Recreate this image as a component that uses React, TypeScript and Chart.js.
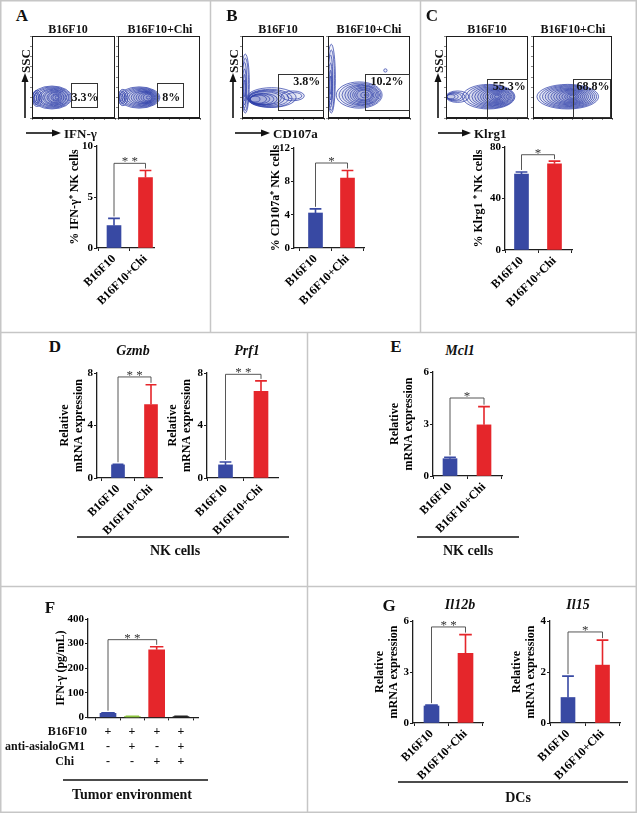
import React, { useEffect, useRef } from "react";
import { Chart, registerables } from "chart.js";

Chart.register(...registerables);

const FONT = '"Liberation Serif", "Times New Roman", serif';
const BLUE = "#3849a3";
const RED = "#e5262b";
const GREEN = "#8dc63f";
const BLACKBAR = "#222222";
const DARK = "#1e1e1e";
const CONTOUR = "rgba(45, 62, 168, 0.9)";

// ---------------- data ----------------
const GROUPS = ["B16F10", "B16F10+Chi"];
const IFNG_PCT = [2.2, 6.9];
const IFNG_PCT_ERR = [0.7, 0.7];
const CD107A_PCT = [4.2, 8.4];
const CD107A_PCT_ERR = [0.5, 0.9];
const KLRG1_PCT = [59, 67];
const KLRG1_PCT_ERR = [1.6, 2.0];
const GZMB_EXPR = [1.0, 5.6];
const GZMB_ERR = [0.05, 1.5];
const PRF1_EXPR = [1.0, 6.6];
const PRF1_ERR = [0.22, 0.8];
const MCL1_EXPR = [1.0, 2.95];
const MCL1_ERR = [0.08, 1.05];
const F_GROUPS = ["1", "2", "3", "4"];
const F_IFNG = [17, 3, 275, 3];
const F_IFNG_ERR = [2, 1, 12, 1];
const F_ROW_LABELS = ["B16F10", "anti-asialoGM1", "Chi"];
const F_B16F10 = ["+", "+", "+", "+"];
const F_ANTI = ["-", "+", "-", "+"];
const F_CHI = ["-", "-", "+", "+"];
const IL12B_EXPR = [1.0, 4.1];
const IL12B_ERR = [0.05, 1.1];
const IL15_EXPR = [1.0, 2.27];
const IL15_ERR = [0.84, 0.98];

// flow cytometry (percent in gate) and contour rings [cx, cy, rx, ry] in 0-100 units
const A_PCT = ["3.3%", "8%"];
const B_PCT = ["3.8%", "10.2%"];
const C_PCT = ["55.3%", "68.8%"];
const A_GATES = [[47, 78, 12, 43], [48, 80, 12, 43]];
const B_GATES = [[44, 99, 9, 54], [45, 99, 9, 54]];
const C_GATES = [[50, 99, 0, 48], [51, 98, 0, 48]];
const A_LEFT_RINGS = [
  [24, 25, 24, 14], [24.5, 25, 22, 13], [25, 25, 20, 12], [26, 25, 18, 11], [26, 25, 16, 10],
  [27, 25, 14, 9], [27, 25, 12, 8], [28, 25, 10, 7], [28, 25, 8, 6], [29, 25, 6, 4.5],
  [29, 25, 4, 3.5], [30, 25, 2, 2], [6, 24, 6, 10], [5, 24, 4.5, 8], [5, 24, 3, 6], [4, 24, 2, 4],
];
const A_RIGHT_RINGS = [
  [26, 25, 25, 13], [27, 25, 23, 12], [28, 25, 21, 11], [29, 25, 19, 10], [30, 25, 17, 9],
  [31, 25, 15, 8], [32, 25, 13, 7.5], [33, 25, 11, 6.5], [34, 25, 9, 6], [35, 25, 7, 5],
  [36, 25, 5, 4], [37, 25, 2.5, 2], [6, 25, 6, 10], [5, 25, 4.5, 8], [5, 25, 3, 6], [4, 25, 2, 4],
];
const B_LEFT_RINGS = [
  [4, 42, 5, 36], [4, 41, 4, 32], [3, 40, 3, 28], [3, 38, 2.4, 22], [3, 37, 1.6, 16], [3, 36, 1, 10],
  [36, 25, 30, 12], [34, 24, 27, 11], [32, 24, 25, 10], [30, 24, 22, 9], [28, 24, 20, 8],
  [26, 23, 17, 7], [24, 23, 15, 6.5], [22, 23, 12, 5.5], [20, 23, 10, 5], [16, 23, 6, 3.5],
  [62, 27, 14, 6], [64, 27, 9, 4],
];
const B_RIGHT_RINGS = [
  [4, 48, 5, 42], [4, 46, 4, 37], [3, 45, 3, 32], [3, 42, 2.4, 25], [3, 40, 1.6, 18], [3, 40, 1, 11],
  [38, 28, 28, 16], [39, 28, 25.5, 14.5], [40, 28, 23, 13], [41, 28, 20.5, 12], [42, 28, 18, 11],
  [42.5, 28, 15.5, 9.5], [43, 28, 13, 8.5], [43.5, 28, 11, 7], [44, 28, 9, 6], [45, 28, 5, 3.5],
  [46, 28, 2, 1.5], [70, 58, 2, 2],
];
const C_LEFT_RINGS = [
  [52, 26, 32, 15], [53.5, 26, 29.5, 14], [55, 26, 27, 13], [56, 26, 24.5, 12], [57, 26, 22, 11],
  [58, 26, 19.5, 10], [59, 26, 17, 9], [59.5, 26, 14.5, 8], [60, 26, 12, 7], [60.5, 26, 9.5, 5.8],
  [61, 26, 7, 4.5], [61.5, 26, 5, 3.2], [62, 26, 3, 2], [14, 26, 14, 7], [12, 26, 11, 5.5],
  [10, 26, 9, 4.5], [8, 26, 7, 3.5], [6, 26, 5, 2.5],
];
const C_RIGHT_RINGS = [
  [44, 26, 39, 15], [44.5, 26, 36, 14], [45, 26, 33, 13], [45.5, 26, 30, 12], [46, 26, 27, 11],
  [46.5, 26, 24, 10], [47, 26, 21, 9], [47.5, 26, 18, 8], [48, 26, 15, 7], [48.5, 26, 12, 5.8],
  [49, 26, 9, 4.5], [49.5, 26, 6.5, 3.2], [50, 26, 4, 2],
];

type BarSpec = {
  labels: string[];
  values: number[];
  errs: number[];
  colors: string[];
  yMax: number;
  yStep: number;
  title: string | string[];
  sig: string;
  sigY: number;
  sigTo: number;
  box: { left: number; right: number; top: number; bottom: number };
  centers: [number, number];
  barW: number;
  titleX: number;
  showX: boolean;
};

const REL = ["Relative", "mRNA expression"];

const BAR_SPECS: BarSpec[] = [
  { labels: GROUPS, values: IFNG_PCT, errs: IFNG_PCT_ERR, colors: [BLUE, RED], yMax: 10, yStep: 5, title: "% IFN-γ⁺ NK cells", sig: "**", sigY: 8.3, sigTo: 1, box: { left: 97, right: 154, top: 146, bottom: 248 }, centers: [114, 145.5], barW: 14, titleX: 75, showX: true },
  { labels: GROUPS, values: CD107A_PCT, errs: CD107A_PCT_ERR, colors: [BLUE, RED], yMax: 12, yStep: 4, title: "% CD107a⁺ NK cells", sig: "*", sigY: 10.2, sigTo: 1, box: { left: 294, right: 364, top: 148, bottom: 248 }, centers: [315.5, 347.5], barW: 14, titleX: 276, showX: true },
  { labels: GROUPS, values: KLRG1_PCT, errs: KLRG1_PCT_ERR, colors: [BLUE, RED], yMax: 80, yStep: 40, title: "% Klrg1 ⁺ NK cells", sig: "*", sigY: 74, sigTo: 1, box: { left: 505, right: 572, top: 147, bottom: 250 }, centers: [521.5, 554.5], barW: 14, titleX: 479, showX: true },
  { labels: GROUPS, values: GZMB_EXPR, errs: GZMB_ERR, colors: [BLUE, RED], yMax: 8, yStep: 4, title: REL, sig: "**", sigY: 7.7, sigTo: 1, box: { left: 97, right: 162, top: 373, bottom: 478 }, centers: [118, 151], barW: 13, titleX: 65, showX: true },
  { labels: GROUPS, values: PRF1_EXPR, errs: PRF1_ERR, colors: [BLUE, RED], yMax: 8, yStep: 4, title: REL, sig: "**", sigY: 7.9, sigTo: 1, box: { left: 207, right: 278, top: 373, bottom: 478 }, centers: [225.5, 261], barW: 14, titleX: 173, showX: true },
  { labels: GROUPS, values: MCL1_EXPR, errs: MCL1_ERR, colors: [BLUE, RED], yMax: 6, yStep: 3, title: REL, sig: "*", sigY: 4.5, sigTo: 1, box: { left: 433, right: 502, top: 372, bottom: 476 }, centers: [450, 484], barW: 14, titleX: 395, showX: true },
  { labels: F_GROUPS, values: F_IFNG, errs: F_IFNG_ERR, colors: [BLUE, GREEN, RED, BLACKBAR], yMax: 400, yStep: 100, title: "IFN-γ (pg/mL)", sig: "**", sigY: 316, sigTo: 2, box: { left: 88, right: 198, top: 619, bottom: 719 }, centers: [108, 181], barW: 16, titleX: 61, showX: false },
  { labels: GROUPS, values: IL12B_EXPR, errs: IL12B_ERR, colors: [BLUE, RED], yMax: 6, yStep: 3, title: REL, sig: "**", sigY: 5.65, sigTo: 1, box: { left: 413, right: 483, top: 621, bottom: 723 }, centers: [431.5, 465.5], barW: 15, titleX: 380, showX: true },
  { labels: GROUPS, values: IL15_EXPR, errs: IL15_ERR, colors: [BLUE, RED], yMax: 4, yStep: 2, title: REL, sig: "*", sigY: 3.57, sigTo: 1, box: { left: 550, right: 620, top: 621, bottom: 723 }, centers: [568, 602.5], barW: 14, titleX: 517, showX: true },
];

type FlowSpec = { box: number[]; rings: number[][]; gate: number[]; pct: string; at: number[] };
const FLOW_SPECS: FlowSpec[] = [
  { box: [32, 36, 115, 118], rings: A_LEFT_RINGS, gate: A_GATES[0], pct: A_PCT[0], at: [64, 24] },
  { box: [118, 36, 200, 118], rings: A_RIGHT_RINGS, gate: A_GATES[1], pct: A_PCT[1], at: [65, 24] },
  { box: [242, 36, 324, 118], rings: B_LEFT_RINGS, gate: B_GATES[0], pct: B_PCT[0], at: [79, 44] },
  { box: [328, 36, 410, 118], rings: B_RIGHT_RINGS, gate: B_GATES[1], pct: B_PCT[1], at: [72, 44] },
  { box: [446, 36, 528, 118], rings: C_LEFT_RINGS, gate: C_GATES[0], pct: C_PCT[0], at: [77, 38] },
  { box: [533, 36, 612, 118], rings: C_RIGHT_RINGS, gate: C_GATES[1], pct: C_PCT[1], at: [76, 38] },
];

const TITLE_SIZE = 12;
const TITLE_LH = 1.15;

function BarChart({ spec }: { spec: BarSpec }) {
  const ref = useRef<HTMLCanvasElement | null>(null);
  const YW = 72, PT = 14, PR = 14;
  const XH = spec.showX ? 76 : 6;
  const { left, right, top, bottom } = spec.box;
  const cw = YW + (right - left) + PR;
  const ch = PT + (bottom - top) + XH;
  useEffect(() => {
    if (!ref.current) return;
    const n = spec.values.length;
    const c1 = spec.centers[0], cN = spec.centers[1];
    const u = (cN - c1) / (n - 1);
    const xMin = 1 - (c1 - left) / u;
    const xMax = n + (right - cN) / u;
    const titlePad = spec.titleX - (left - YW) - (TITLE_SIZE * TITLE_LH) / 2;
    const yTickFont = { family: FONT, size: 11, weight: "bold" as const };
    const xTickFont = { family: FONT, size: 12, weight: "bold" as const };
    const overlay = {
      id: "overlay",
      afterDatasetsDraw(chart: any) {
        const ctx = chart.ctx;
        const xs = chart.scales.x, ys = chart.scales.y;
        ctx.save();
        const cap = spec.barW * 0.42;
        spec.values.forEach((v, i) => {
          const e = spec.errs[i];
          if (!e) return;
          const x = xs.getPixelForValue(i + 1);
          const y0 = ys.getPixelForValue(v);
          const y1 = ys.getPixelForValue(v + e);
          ctx.strokeStyle = spec.colors[i];
          ctx.lineWidth = 1.6;
          ctx.beginPath();
          ctx.moveTo(x, y0);
          ctx.lineTo(x, y1);
          ctx.moveTo(x - cap, y1);
          ctx.lineTo(x + cap, y1);
          ctx.stroke();
        });
        const i1 = spec.sigTo;
        const xa = xs.getPixelForValue(1), xb = xs.getPixelForValue(i1 + 1);
        const yb = ys.getPixelForValue(spec.sigY);
        const ya = ys.getPixelForValue(spec.values[0] + spec.errs[0]) - 2;
        const yc = ys.getPixelForValue(spec.values[i1] + spec.errs[i1]) - 2;
        ctx.strokeStyle = "#444";
        ctx.lineWidth = 0.9;
        ctx.beginPath();
        ctx.moveTo(xa, ya);
        ctx.lineTo(xa, yb);
        ctx.lineTo(xb, yb);
        ctx.lineTo(xb, yc);
        ctx.stroke();
        ctx.fillStyle = "#333";
        ctx.font = `13px ${FONT}`;
        ctx.textAlign = "center";
        ctx.textBaseline = "alphabetic";
        ctx.fillText(spec.sig === "**" ? "* *" : spec.sig, (xa + xb) / 2, yb + 2);
        ctx.restore();
      },
    };
    const chart = new Chart(ref.current, {
      type: "bar",
      data: {
        datasets: [
          {
            data: spec.values.map((v, i) => ({ x: i + 1, y: v })) as any,
            backgroundColor: spec.colors,
            borderWidth: 0,
            barThickness: spec.barW,
          },
        ],
      },
      options: {
        responsive: false,
        animation: false,
        layout: { padding: { left: 0, top: PT, right: PR, bottom: 0 } },
        plugins: { legend: { display: false }, tooltip: { enabled: false } },
        scales: {
          x: {
            type: "linear",
            min: xMin,
            max: xMax,
            bounds: "data",
            offset: false,
            afterFit: (s: any) => { s.height = XH; },
            afterBuildTicks: (s: any) => { s.ticks = spec.labels.map((_, i) => ({ value: i + 1 })); },
            grid: { display: true, drawOnChartArea: false, drawTicks: true, tickLength: 3, color: DARK, lineWidth: 1 },
            border: { display: true, color: DARK, width: 1.3 },
            ticks: {
              display: spec.showX,
              autoSkip: false,
              minRotation: 45,
              maxRotation: 45,
              padding: 1,
              color: "#000",
              font: xTickFont,
              callback: (v: any) => spec.labels[Math.round(Number(v)) - 1] ?? "",
            },
          } as any,
          y: {
            type: "linear",
            min: 0,
            max: spec.yMax,
            afterFit: (s: any) => { s.width = YW; },
            ticks: { stepSize: spec.yStep, color: "#000", font: yTickFont, padding: 1 },
            grid: { display: true, drawOnChartArea: false, tickLength: 3, color: DARK, lineWidth: 1 },
            border: { display: true, color: DARK, width: 1.3 },
            title: {
              display: true,
              text: spec.title,
              color: "#000",
              font: { family: FONT, size: TITLE_SIZE, weight: "bold", lineHeight: TITLE_LH },
              padding: { top: titlePad, bottom: 0 },
            },
          } as any,
        },
      },
      plugins: [overlay],
    });
    return () => chart.destroy();
  }, []);
  return (
    <canvas
      ref={ref}
      width={cw}
      height={ch}
      style={{ position: "absolute", left: left - YW, top: top - PT, width: cw, height: ch }}
    />
  );
}

function FlowPlot({ spec }: { spec: FlowSpec }) {
  const ref = useRef<HTMLCanvasElement | null>(null);
  const [l, t, r, b] = spec.box;
  const cw = r - l + 6, ch = b - t + 6;
  useEffect(() => {
    if (!ref.current) return;
    const draw = {
      id: "flow",
      afterDraw(chart: any) {
        const ctx = chart.ctx;
        const a = chart.chartArea;
        const xs = chart.scales.x, ys = chart.scales.y;
        ctx.save();
        ctx.beginPath();
        ctx.rect(a.left, a.top, a.right - a.left, a.bottom - a.top);
        ctx.clip();
        ctx.strokeStyle = CONTOUR;
        ctx.fillStyle = "rgba(50, 70, 175, 0.06)";
        ctx.lineWidth = 0.8;
        for (const [cx, cy, rx, ry] of spec.rings) {
          const px = xs.getPixelForValue(cx), py = ys.getPixelForValue(cy);
          const prx = Math.abs(xs.getPixelForValue(cx + rx) - px);
          const pry = Math.abs(ys.getPixelForValue(cy + ry) - py);
          ctx.beginPath();
          ctx.ellipse(px, py, prx, pry, 0, 0, Math.PI * 2);
          ctx.fill();
          ctx.stroke();
        }
        ctx.restore();
        ctx.save();
        ctx.strokeStyle = DARK;
        ctx.lineWidth = 1;
        ctx.strokeRect(a.left + 0.5, a.top + 0.5, a.right - a.left - 1, a.bottom - a.top - 1);
        const [g0, g1, g2, g3] = spec.gate;
        const gx0 = xs.getPixelForValue(g0), gx1 = xs.getPixelForValue(g1);
        const gy0 = ys.getPixelForValue(g2), gy1 = ys.getPixelForValue(g3);
        ctx.strokeStyle = "#333";
        ctx.lineWidth = 1;
        ctx.strokeRect(Math.round(gx0) + 0.5, Math.round(gy1) + 0.5, Math.round(gx1 - gx0), Math.round(gy0 - gy1) - 1);
        ctx.fillStyle = "#111";
        ctx.font = `bold 12px ${FONT}`;
        ctx.textAlign = "center";
        ctx.textBaseline = "middle";
        ctx.fillText(spec.pct, xs.getPixelForValue(spec.at[0]), ys.getPixelForValue(spec.at[1]));
        ctx.restore();
      },
    };
    const chart = new Chart(ref.current, {
      type: "scatter",
      data: { datasets: [{ data: [] }] },
      options: {
        responsive: false,
        animation: false,
        layout: { padding: { left: 0, top: 2, right: 2, bottom: 0 } },
        plugins: { legend: { display: false }, tooltip: { enabled: false } },
        scales: {
          x: {
            type: "linear", min: 0, max: 100, bounds: "data",
            afterFit: (s: any) => { s.height = 4; },
            ticks: { display: false, stepSize: 12.5 },
            grid: { display: true, drawOnChartArea: false, tickLength: 2, color: "#666", lineWidth: 0.8 },
            border: { display: true, color: DARK, width: 1 },
          } as any,
          y: {
            type: "linear", min: 0, max: 100, bounds: "data",
            afterFit: (s: any) => { s.width = 4; },
            ticks: { display: false, stepSize: 12.5 },
            grid: { display: true, drawOnChartArea: false, tickLength: 2, color: "#666", lineWidth: 0.8 },
            border: { display: true, color: DARK, width: 1 },
          } as any,
        },
      },
      plugins: [draw],
    });
    return () => chart.destroy();
  }, []);
  return (
    <canvas
      ref={ref}
      width={cw}
      height={ch}
      style={{ position: "absolute", left: l - 4, top: t - 2, width: cw, height: ch }}
    />
  );
}

type TP = {
  x: number; y: number; children: React.ReactNode; size?: number; bold?: boolean;
  italic?: boolean; align?: "center" | "left" | "right"; rotate?: number;
};
function T({ x, y, children, size = 12, bold = true, italic = false, align = "center", rotate = 0 }: TP) {
  const tx = align === "center" ? "-50%" : align === "right" ? "-100%" : "0";
  return (
    <div
      style={{
        position: "absolute", left: x, top: y,
        transform: `translate(${tx}, -50%) rotate(${rotate}deg)`,
        fontSize: size, fontWeight: bold ? 700 : 400, fontStyle: italic ? "italic" : "normal",
        whiteSpace: "nowrap", lineHeight: 1, fontFamily: FONT, color: "#111",
      }}
    >
      {children}
    </div>
  );
}

const F_CENTERS = [108, 132, 157, 181];
const F_ROW_Y = [731, 746, 761];
const F_ROW_RIGHT = [87, 85, 74];

export default function App() {
  const gray = "#c6c6c6";
  const vArrow = (x: number) => (
    <g key={`va${x}`}>
      <line x1={x} y1={118} x2={x} y2={80} stroke="#111" strokeWidth={1.6} />
      <polygon points={`${x},73 ${x - 3.5},82 ${x + 3.5},82`} fill="#111" />
    </g>
  );
  const hArrow = (x0: number, x1: number) => (
    <g key={`ha${x0}`}>
      <line x1={x0} y1={133} x2={x1 - 6} y2={133} stroke="#111" strokeWidth={1.6} />
      <polygon points={`${x1},133 ${x1 - 9},129.5 ${x1 - 9},136.5`} fill="#111" />
    </g>
  );
  const fRows = [F_B16F10, F_ANTI, F_CHI];
  return (
    <div style={{ position: "absolute", left: 0, top: 0, width: 637, height: 813, background: "#fff", overflow: "hidden" }}>
      <svg width={637} height={813} style={{ position: "absolute", left: 0, top: 0 }}>
        <rect x={0.75} y={0.75} width={635.5} height={811.5} fill="none" stroke={gray} strokeWidth={1.5} />
        <line x1={210.5} y1={0} x2={210.5} y2={332} stroke={gray} strokeWidth={1.5} />
        <line x1={420.5} y1={0} x2={420.5} y2={332} stroke={gray} strokeWidth={1.5} />
        <line x1={0} y1={332.5} x2={637} y2={332.5} stroke={gray} strokeWidth={1.5} />
        <line x1={307.5} y1={332} x2={307.5} y2={813} stroke={gray} strokeWidth={1.5} />
        <line x1={0} y1={586.5} x2={637} y2={586.5} stroke={gray} strokeWidth={1.5} />
        {vArrow(25)}
        {vArrow(233)}
        {vArrow(438)}
        {hArrow(26, 61)}
        {hArrow(235, 270)}
        {hArrow(438, 471)}
        <line x1={77} y1={537} x2={289} y2={537} stroke="#111" strokeWidth={1.5} />
        <line x1={417} y1={537} x2={519} y2={537} stroke="#111" strokeWidth={1.5} />
        <line x1={63} y1={780} x2={208} y2={780} stroke="#111" strokeWidth={1.5} />
        <line x1={398} y1={782} x2={628} y2={782} stroke="#111" strokeWidth={1.5} />
      </svg>

      {FLOW_SPECS.map((s, i) => <FlowPlot key={`f${i}`} spec={s} />)}
      {BAR_SPECS.map((s, i) => <BarChart key={`b${i}`} spec={s} />)}

      <T x={22} y={15} size={17}>A</T>
      <T x={232} y={15} size={17}>B</T>
      <T x={432} y={15} size={17}>C</T>
      <T x={68} y={29}>B16F10</T>
      <T x={160} y={29}>B16F10+Chi</T>
      <T x={278} y={29}>B16F10</T>
      <T x={369} y={29}>B16F10+Chi</T>
      <T x={487} y={29}>B16F10</T>
      <T x={573} y={29}>B16F10+Chi</T>
      <T x={25} y={61} size={13} rotate={-90}>SSC</T>
      <T x={233} y={61} size={13} rotate={-90}>SSC</T>
      <T x={438} y={61} size={13} rotate={-90}>SSC</T>
      <T x={64} y={133} size={13} align="left">IFN-γ</T>
      <T x={273} y={133} size={13} align="left">CD107a</T>
      <T x={474} y={133} size={13} align="left">Klrg1</T>

      <T x={55} y={346} size={17}>D</T>
      <T x={396} y={346} size={17}>E</T>
      <T x={133} y={351} size={14} italic>Gzmb</T>
      <T x={247} y={351} size={14} italic>Prf1</T>
      <T x={460} y={351} size={14} italic>Mcl1</T>
      <T x={175} y={551} size={14}>NK cells</T>
      <T x={468} y={551} size={14}>NK cells</T>

      <T x={50} y={607} size={17}>F</T>
      <T x={389} y={605} size={17}>G</T>
      <T x={460} y={605} size={14} italic>Il12b</T>
      <T x={578} y={605} size={14} italic>Il15</T>
      {F_ROW_LABELS.map((lab, r) => (
        <T key={`rl${r}`} x={F_ROW_RIGHT[r]} y={F_ROW_Y[r]} align="right">{lab}</T>
      ))}
      {fRows.map((row, r) =>
        row.map((sgn, c) => (
          <T key={`s${r}-${c}`} x={F_CENTERS[c]} y={F_ROW_Y[r]} size={12}>{sgn}</T>
        ))
      )}
      <T x={132} y={795} size={14}>Tumor environment</T>
      <T x={518} y={798} size={14}>DCs</T>
    </div>
  );
}
